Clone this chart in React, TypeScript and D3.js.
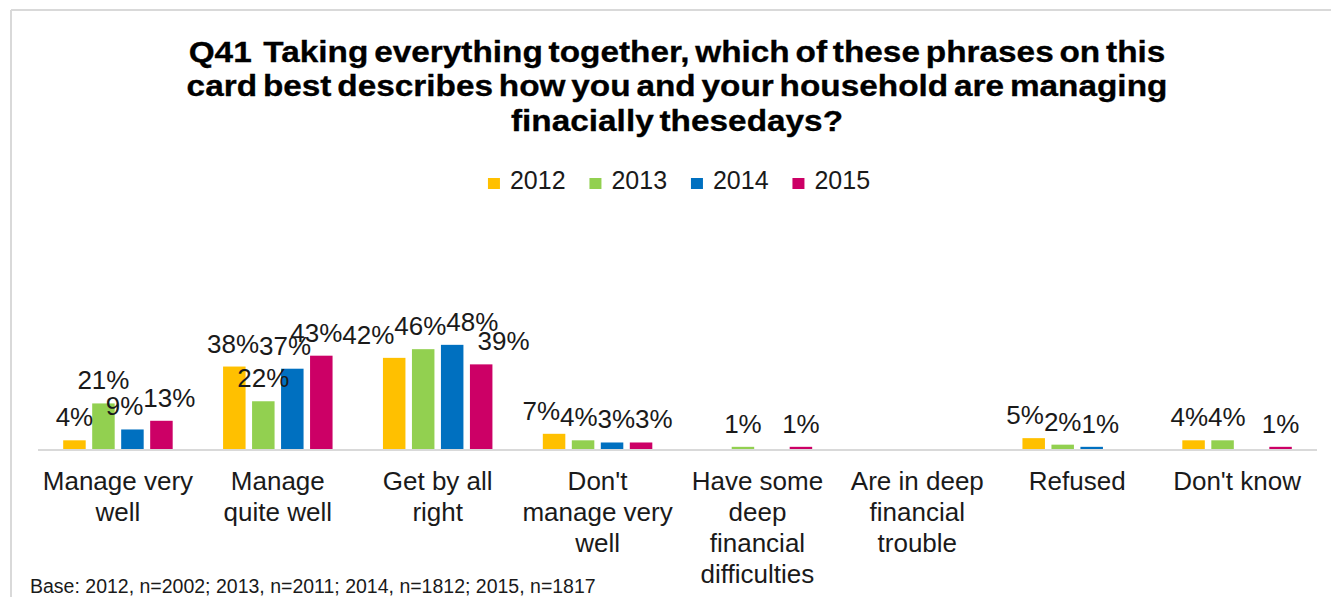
import React from "react";
import * as d3 from "d3";

const categories = [
  "Manage very well",
  "Manage quite well",
  "Get by all right",
  "Don't manage very well",
  "Have some deep financial difficulties",
  "Are in deep financial trouble",
  "Refused",
  "Don't know",
];
const categoryLines = [
  ["Manage very", "well"],
  ["Manage", "quite well"],
  ["Get by all", "right"],
  ["Don't", "manage very", "well"],
  ["Have some", "deep", "financial", "difficulties"],
  ["Are in deep", "financial", "trouble"],
  ["Refused"],
  ["Don't know"],
];
const seriesNames = ["2012", "2013", "2014", "2015"];
const values2012 = [4, 38, 42, 7, null, null, 5, 4];
const values2013 = [21, 22, 46, 4, 1, null, 2, 4];
const values2014 = [9, 37, 48, 3, null, null, 1, null];
const values2015 = [13, 43, 39, 3, 1, null, null, 1];
const seriesValues = [values2012, values2013, values2014, values2015];
const colors = ["#FFC000", "#92D050", "#0070C0", "#CC0066"];
const titleLines = [
  "Q41  Taking everything together, which of these phrases on this",
  "card best describes how you and your household are managing",
  "finacially thesedays?",
];
const footnote = "Base: 2012, n=2002; 2013, n=2011; 2014, n=1812; 2015, n=1817";

const W = 1331;
const H = 597;
const FONT = "'Liberation Sans', Arial, Helvetica, sans-serif";
const LABEL_SIZE = 26;

function labelWidth(s: string, size: number) {
  let w = 0;
  for (const ch of s) w += ch === "%" ? 0.889 : 0.556;
  return w * size;
}

export default function App() {
  const x0 = d3.scaleBand<string>().domain(categories).range([38, 1317]).padding(0);
  const x1 = d3
    .scaleBand<string>()
    .domain(seriesNames)
    .range([0, x0.bandwidth()])
    .paddingInner(0.224)
    .paddingOuter(0.869);
  const y = d3.scaleLinear().domain([0, 100]).range([449, 232]);

  // data labels placed above bars, then nudged sideways where they collide
  type Lbl = { key: string; text: string; x: number; y: number; w: number };
  const labels: Lbl[] = [];
  categories.forEach((c, ci) => {
    seriesNames.forEach((s, si) => {
      const v = seriesValues[si][ci];
      if (v == null) return;
      const text = `${v}%`;
      labels.push({
        key: `${c}-${s}`,
        text,
        x: (x0(c) as number) + (x1(s) as number) + x1.bandwidth() / 2,
        y: y(v) - 14,
        w: labelWidth(text, LABEL_SIZE),
      });
    });
  });
  for (let it = 0; it < 120; it++) {
    for (let i = 0; i < labels.length; i++) {
      for (let j = i + 1; j < labels.length; j++) {
        const a = labels[i];
        const b = labels[j];
        const dy = Math.abs(a.y - b.y);
        const f = dy < 12 ? 1 : dy < 24 ? 0.6 : 0;
        if (f === 0) continue;
        const ov = ((a.w + b.w) / 2) * f - (b.x - a.x);
        if (ov > 0.01) {
          a.x -= ov / 2;
          b.x += ov / 2;
        }
      }
    }
  }

  // legend
  const legendItemW = 101.5;
  const legendTotal = legendItemW * (seriesNames.length - 1) + 12 + 10 + labelWidth("2015", 25);
  const legendX = 679 - legendTotal / 2;

  return (
    <svg
      width={W}
      height={H}
      style={{ position: "absolute", left: 0, top: 0, display: "block", background: "#fff" }}
      fontFamily={FONT}
    >
      <rect x={0} y={0} width={W} height={H} fill="#fff" />
      <line x1={11} y1={10} x2={W} y2={10} stroke="#d9d9d9" strokeWidth={2} />
      <line x1={11} y1={10} x2={11} y2={H} stroke="#d9d9d9" strokeWidth={2} />

      <g transform={`translate(677,0) scale(1.15,1)`}>
        {titleLines.map((t, i) => (
          <text
            key={i}
            x={0}
            y={62 + i * 34.5}
            textAnchor="middle"
            fontSize={29}
            fontWeight="bold"
            fill="#000"
            stroke="#000"
            strokeWidth={0.3}
            wordSpacing={-3}
            style={{ whiteSpace: "pre" }}
          >
            {t}
          </text>
        ))}
      </g>

      {seriesNames.map((s, i) => {
        const lx = legendX + i * legendItemW;
        return (
          <g key={s}>
            <rect x={lx} y={178} width={12} height={11} fill={colors[i]} />
            <text x={lx + 22} y={189} fontSize={25} fill="#1a1a1a">
              {s}
            </text>
          </g>
        );
      })}

      {categories.map((c, ci) => (
        <g key={c}>
          {seriesNames.map((s, si) => {
            const v = seriesValues[si][ci];
            if (v == null) return null;
            return (
              <rect
                key={s}
                x={(x0(c) as number) + (x1(s) as number)}
                y={y(v)}
                width={x1.bandwidth()}
                height={y(0) - y(v)}
                fill={colors[si]}
              />
            );
          })}
        </g>
      ))}

      <line x1={38} x2={1317} y1={450} y2={450} stroke="#d9d9d9" strokeWidth={2} />

      {labels.map((l) => (
        <text key={l.key} x={l.x} y={l.y} textAnchor="middle" fontSize={LABEL_SIZE} fill="#1a1a1a">
          {l.text}
        </text>
      ))}

      {categories.map((c, ci) => (
        <text
          key={c}
          x={(x0(c) as number) + x0.bandwidth() / 2}
          textAnchor="middle"
          fontSize={26}
          fill="#1a1a1a"
        >
          {categoryLines[ci].map((ln, li) => (
            <tspan key={li} x={(x0(c) as number) + x0.bandwidth() / 2} y={490 + li * 31}>
              {ln}
            </tspan>
          ))}
        </text>
      ))}

      <text x={30} y={593} fontSize={19.5} fill="#1a1a1a">
        {footnote}
      </text>
    </svg>
  );
}
